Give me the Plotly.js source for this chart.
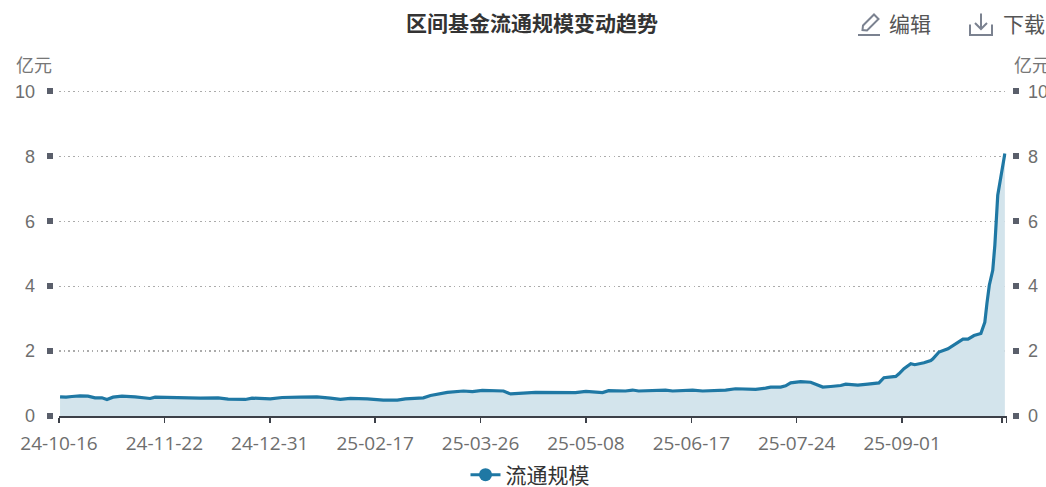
<!DOCTYPE html>
<html><head><meta charset="utf-8">
<script src="https://cdn.plot.ly/plotly-3.0.0.min.js"></script>
<style>html,body{margin:0;padding:0;background:#fff;overflow:hidden}#c{width:1046px;height:487px}</style>
</head><body><div id="c"></div>
<script>
const W = 1046, H = 487;
const seriesName = '流通规模';
const bandPos = [0.4,2.7,4.9,8,11,13.7,16.3,18.2,20.5,23.9,28.9,31.5,34.6,36.5,40.3,44.1,49.8,53.6,60.4,64.2,70.7,73.3,80.2,84.7,91.6,97.9,103,106.8,110.6,117,123.1,128.4,131.5,138.3,141,144,147.4,153.5,156.9,160.7,168.7,171.4,179,180.9,196,200,206.3,208.6,215,217.7,220,230.2,232.9,240.5,244.3,253,256.8,261.8,264.4,268.2,270.1,273.9,275.8,277.7,281.5,285.3,287.2,289.9,292.9,296.7,298.6,303.2,307,311.2,313.1,317.6,318.8,320.7,323.3,324.8,328.3,330.9,331.7,334,337.4,340.4,343.1,345,347.3,349.9,351.4,352.2,352.8,353.1,354.4,355.2,356.3,357.5,359];
const scaleValues = [.59,.58,.60,.62,.61,.56,.56,.51,.58,.61,.59,.56,.54,.58,.57,.56,.57,.55,.56,.52,.51,.55,.53,.57,.58,.59,.55,.51,.54,.53,.49,.49,.53,.56,.63,.67,.73,.77,.75,.79,.77,.68,.72,.73,.72,.76,.72,.78,.77,.80,.77,.80,.77,.80,.77,.80,.84,.84,.82,.86,.89,.89,.93,1.02,1.06,1.04,.98,.89,.91,.94,.98,.95,.98,1.02,1.18,1.22,1.30,1.46,1.61,1.58,1.64,1.71,1.76,1.97,2.07,2.23,2.37,2.37,2.48,2.54,2.89,3.47,3.87,4.03,4.49,5.26,6.8,7.42,8.09];
const tickPos = [0,40,80,120,160,200,240,280,320,358,359.7];
const tickLabels = ['24-10-16','24-11-22','24-12-31','25-02-17','25-03-26','25-05-08','25-06-17','25-07-24','25-09-01','',''];
const yTicks = [0,2,4,6,8,10];

const icon = s => 'data:image/svg+xml,' + encodeURIComponent(s);
const pencil = `<svg xmlns="http://www.w3.org/2000/svg" width="24" height="24" viewBox="0 0 24 24"><path d="M1 22.5H23" stroke="#7b8290" stroke-width="2" fill="none"/><path d="M5.5 17.5L6 13L17 2L21.5 6.5L10 18Z" stroke="#7b8290" stroke-width="2" fill="none"/></svg>`;
const download = `<svg xmlns="http://www.w3.org/2000/svg" width="24" height="24" viewBox="0 0 24 24"><path d="M1 12V22.5H23V12" stroke="#7b8290" stroke-width="2" fill="none"/><path d="M12 1V16.5M6 10.5L12 16.5L18 10.5" stroke="#7b8290" stroke-width="2" fill="none"/></svg>`;

const cjk = '"Noto Sans CJK SC", sans-serif';
const tickFont = {family:'"Open Sans", sans-serif', size:19, color:'#6e6e6e'};
const yAxisBase = {range:[0,10.1], domain:[71/H,1-88.2/H], tickmode:'array', tickvals:yTicks, ticks:'outside', ticklen:6, tickwidth:6,
  tickcolor:'#5a5f6b', showline:false, zeroline:false, anchor:'free', automargin:false, tickfont:{family:'"Liberation Sans", sans-serif', size:18, color:'#6e6e6e'}};
const ann = (text,x,y,size,color,weight,anchor) => ({text, x:x/W, y:1-y/H, xref:'paper', yref:'paper', showarrow:false,
  xanchor:anchor||'left', yanchor:'middle', font:{family:cjk, size, color, weight:weight||400}});

Plotly.newPlot('c', [
  {x:bandPos, y:scaleValues, type:'scatter', mode:'lines', fill:'tozeroy', fillcolor:'#d3e4ec',
   line:{color:'#1f78a4', width:3.2}, showlegend:false, hoverinfo:'skip'},
  {x:[null], y:[null], yaxis:'y2', type:'scatter', mode:'lines+markers', name:seriesName,
   line:{color:'#1f78a4', width:3}, marker:{color:'#1f78a4', size:13}}
], {
  width:W, height:H, margin:{l:0,r:0,t:0,b:0,pad:0,autoexpand:false}, paper_bgcolor:'#fff', plot_bgcolor:'#fff',
  xaxis:{domain:[59/W,1006.7/W], range:[0,359.7], tickmode:'array', tickvals:tickPos, ticktext:tickLabels,
    ticks:'outside', ticklen:5, tickwidth:1.5, tickcolor:'#3c4048', showline:true, linecolor:'#3c4048', linewidth:1.5,
    showgrid:false, zeroline:false, tickfont:tickFont, tickangle:0, ticklabelstandoff:5},
  yaxis:Object.assign({}, yAxisBase, {side:'left', position:52.7/W, showgrid:true, gridcolor:'#ababab', griddash:'1.5px,3.2px', gridwidth:1.3, ticklabelstandoff:8}),
  yaxis2:Object.assign({}, yAxisBase, {side:'right', overlaying:'y', position:1012.3/W, showgrid:false, ticklabelstandoff:5}),
  showlegend:true,
  legend:{orientation:'h', x:530/W, xanchor:'center', y:1-475/H, yanchor:'middle', font:{family:cjk, size:21, color:'#333'}, itemwidth:30, bgcolor:'rgba(0,0,0,0)'},
  annotations:[
    ann('区间基金流通规模变动趋势',532,22.5,21,'#333',700,'center'),
    ann('编辑',887,23.5,21,'#555'),
    ann('下载',1001,23.5,21,'#555'),
    ann('亿元',14,64,18,'#777'),
    ann('亿元',1012,64,18,'#777')
  ],
  images:[
    {source:icon(pencil), xref:'paper', yref:'paper', x:857/W, y:1-12.5/H, sizex:24/W, sizey:24/H, xanchor:'left', yanchor:'top', sizing:'stretch'},
    {source:icon(download), xref:'paper', yref:'paper', x:969/W, y:1-12.5/H, sizex:24/W, sizey:24/H, xanchor:'left', yanchor:'top', sizing:'stretch'}
  ]
}, {staticPlot:true, displayModeBar:false});
</script></body></html>
